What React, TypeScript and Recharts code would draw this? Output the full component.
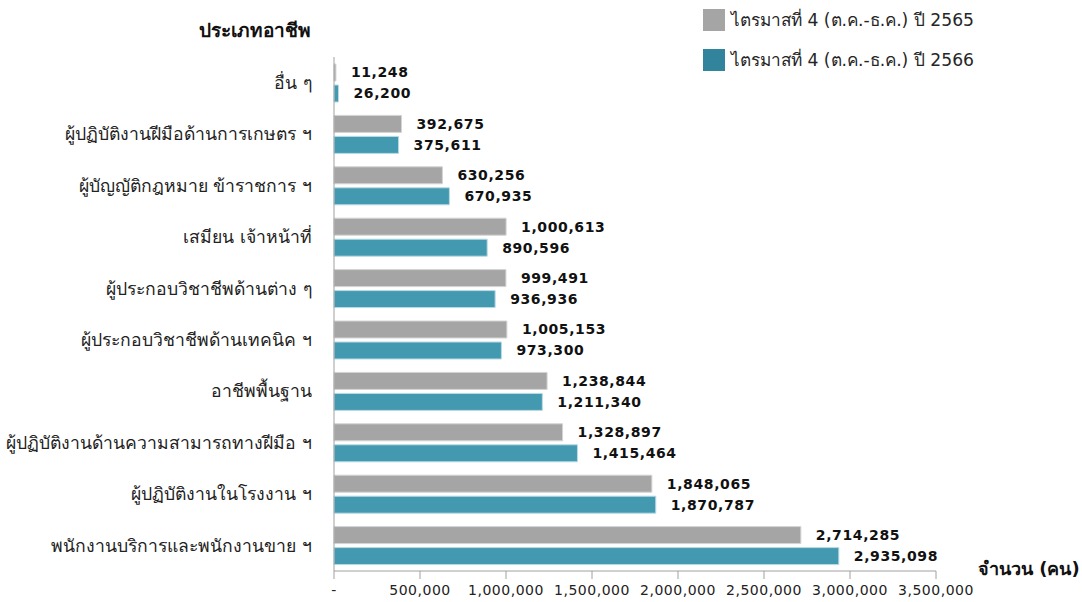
import React from 'react';
import { Bar, BarChart, LabelList, XAxis, YAxis } from 'recharts';

const categories = [
  'อื่น ๆ',
  'ผู้ปฏิบัติงานฝีมือด้านการเกษตร ฯ',
  'ผู้บัญญัติกฎหมาย ข้าราชการ ฯ',
  'เสมียน เจ้าหน้าที่',
  'ผู้ประกอบวิชาชีพด้านต่าง ๆ',
  'ผู้ประกอบวิชาชีพด้านเทคนิค ฯ',
  'อาชีพพื้นฐาน',
  'ผู้ปฏิบัติงานด้านความสามารถทางฝีมือ ฯ',
  'ผู้ปฏิบัติงานในโรงงาน ฯ',
  'พนักงานบริการและพนักงานขาย ฯ',
];
const q4y2565 = [11248, 392675, 630256, 1000613, 999491, 1005153, 1238844, 1328897, 1848065, 2714285];
const q4y2566 = [26200, 375611, 670935, 890596, 936936, 973300, 1211340, 1415464, 1870787, 2935098];
const xTicks = [0, 500000, 1000000, 1500000, 2000000, 2500000, 3000000, 3500000];
const seriesNames = ['ไตรมาสที่ 4 (ต.ค.-ธ.ค.) ปี 2565', 'ไตรมาสที่ 4 (ต.ค.-ธ.ค.) ปี 2566'];

const data = categories.map((name, i) => ({ name, a: q4y2565[i], b: q4y2566[i] }));

const GRAY = '#a5a5a5';
const TEAL = '#4399b0';
const TEAL_LEGEND = '#31849b';
const thaiFont = "Tahoma, 'DejaVu Sans', 'Noto Sans', sans-serif";
const numFont = "'DejaVu Sans', sans-serif";

const fmt = (v: number) => (v === 0 ? '-' : v.toLocaleString('en-US'));

const labelStyle = { fill: '#111', fontSize: 14, fontWeight: 'bold', letterSpacing: 0.6, fontFamily: numFont };

const App: React.FC = () => {
  return (
    <div style={{ position: 'absolute', left: 0, top: 0, width: 1082, height: 602, fontFamily: thaiFont }}>
      <BarChart
        width={1082}
        height={602}
        data={data}
        layout="vertical"
        margin={{ top: 57, right: 146, bottom: 0, left: 0 }}
        barSize={17}
        barGap={4}
      >
        <XAxis
          type="number"
          domain={[0, 3500000]}
          ticks={xTicks}
          interval={0}
          tickFormatter={fmt}
          height={31}
          stroke="#a0a0a0"
          tickSize={8}
          tickMargin={6}
          tick={{ fill: '#222', fontSize: 14, letterSpacing: 0.5, fontFamily: numFont }}
        />
        <YAxis
          type="category"
          dataKey="name"
          width={334}
          stroke="#a0a0a0"
          tickLine={false}
          tickSize={0}
          tickMargin={22}
          interval={0}
          tick={{ fill: '#222', fontSize: 17.6, fontFamily: thaiFont }}
        />
        <Bar dataKey="a" name={seriesNames[0]} fill={GRAY} stroke="#d4d4d4" strokeWidth={1} isAnimationActive={false}>
          <LabelList dataKey="a" position="right" offset={15} formatter={(v: number) => fmt(v)} style={labelStyle} />
        </Bar>
        <Bar dataKey="b" name={seriesNames[1]} fill={TEAL} stroke="#b9dbe4" strokeWidth={1} isAnimationActive={false}>
          <LabelList dataKey="b" position="right" offset={15} formatter={(v: number) => fmt(v)} style={labelStyle} />
        </Bar>
      </BarChart>

      <div style={{ position: 'absolute', left: 199, top: 15, fontSize: 19, fontWeight: 'bold', color: '#111' }}>
        ประเภทอาชีพ
      </div>
      <div style={{ position: 'absolute', left: 978, top: 554, fontSize: 18, fontWeight: 'bold', color: '#111' }}>
        จำนวน (คน)
      </div>

      {seriesNames.map((s, i) => (
        <div
          key={s}
          style={{ position: 'absolute', left: 703, top: 9 + i * 40, display: 'flex', alignItems: 'center', height: 22 }}
        >
          <span style={{ width: 22, height: 22, background: i === 0 ? GRAY : TEAL_LEGEND, display: 'inline-block' }} />
          <span style={{ marginLeft: 6, fontSize: 17.2, color: '#262626', whiteSpace: 'nowrap' }}>{s}</span>
        </div>
      ))}
    </div>
  );
};

export default App;
